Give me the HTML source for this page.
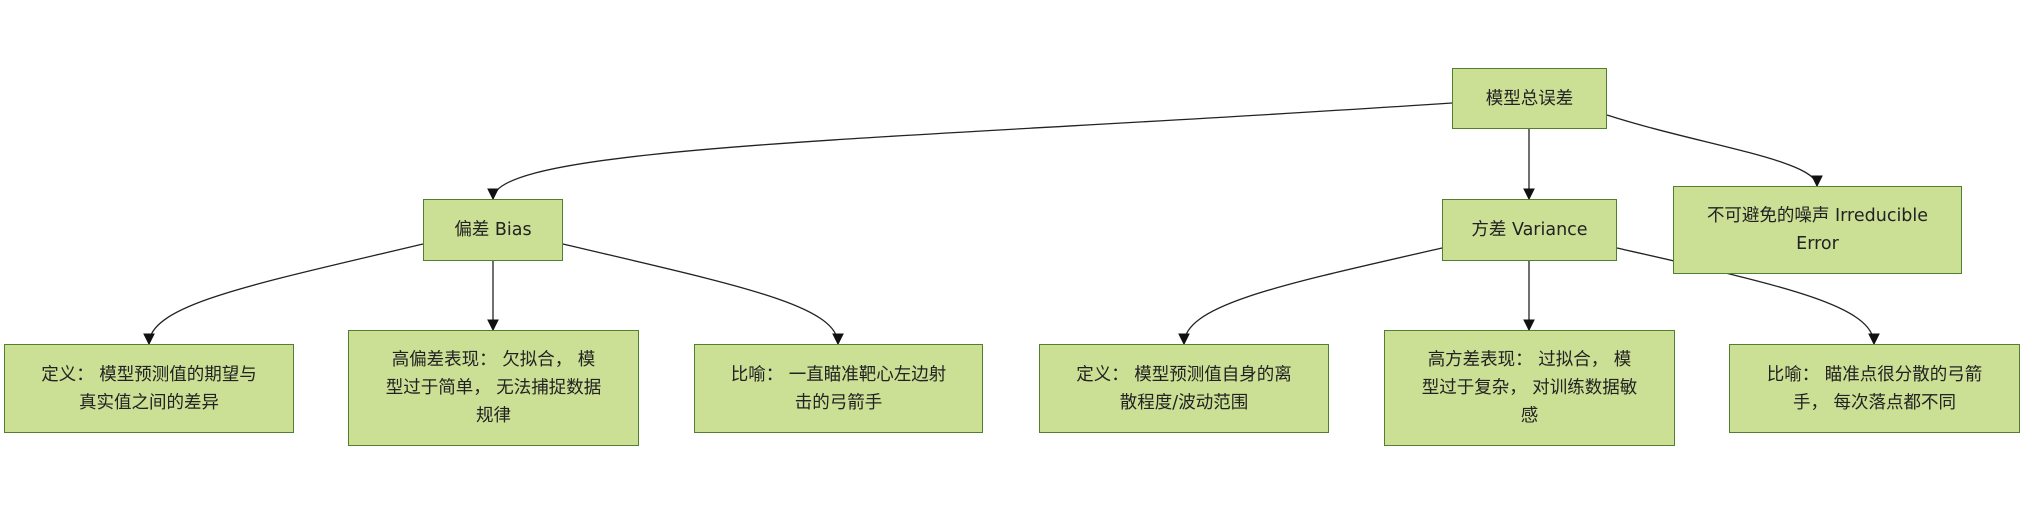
<!DOCTYPE html>
<html><head><meta charset="utf-8"><style>
html,body{margin:0;padding:0;background:#fff;}
body{width:2024px;height:508px;position:relative;overflow:hidden;font-family:"DejaVu Sans","Noto Sans CJK SC",sans-serif;}
.b{position:absolute;box-sizing:border-box;background:#cbdf95;border:1.5px solid #4f7f2f;display:flex;align-items:center;justify-content:center;text-align:center;font-size:17.5px;line-height:28px;color:#222;}
svg{position:absolute;left:0;top:0;}
</style></head><body>
<svg width="2024" height="508">
<defs><marker id="a" viewBox="0 0 10 10" refX="9" refY="5" markerWidth="9" markerHeight="9" orient="auto"><path d="M0,0L10,5L0,10z" fill="#111"/></marker></defs>
<g fill="none" stroke="#222" stroke-width="1.3" marker-end="url(#a)">
<path d="M1452,103 C900,140 493,145 493,199"/>
<path d="M1529,129 L1529,199"/>
<path d="M1607,115 C1700,145 1817,160 1817,186"/>
<path d="M423,244 C250,285 149,305 149,344"/>
<path d="M493,261 L493,330"/>
<path d="M563,244 C736,285 838,305 838,344"/>
<path d="M1442,248 C1280,285 1184,305 1184,344"/>
<path d="M1529,261 L1529,330"/>
<path d="M1617,248 C1780,285 1874,305 1874,344"/>
</g>
</svg>
<div class="b" style="left:1452px;top:68px;width:155px;height:61px;">模型总误差</div>
<div class="b" style="left:423px;top:199px;width:140px;height:62px;">偏差 Bias</div>
<div class="b" style="left:1442px;top:199px;width:175px;height:62px;">方差 Variance</div>
<div class="b" style="left:1673px;top:186px;width:289px;height:88px;">不可避免的噪声 Irreducible<br>Error</div>
<div class="b" style="left:4px;top:344px;width:290px;height:89px;">定义： 模型预测值的期望与<br>真实值之间的差异</div>
<div class="b" style="left:348px;top:330px;width:291px;height:116px;">高偏差表现： 欠拟合， 模<br>型过于简单， 无法捕捉数据<br>规律</div>
<div class="b" style="left:694px;top:344px;width:289px;height:89px;">比喻： 一直瞄准靶心左边射<br>击的弓箭手</div>
<div class="b" style="left:1039px;top:344px;width:290px;height:89px;">定义： 模型预测值自身的离<br>散程度/波动范围</div>
<div class="b" style="left:1384px;top:330px;width:291px;height:116px;">高方差表现： 过拟合， 模<br>型过于复杂， 对训练数据敏<br>感</div>
<div class="b" style="left:1729px;top:344px;width:291px;height:89px;">比喻： 瞄准点很分散的弓箭<br>手， 每次落点都不同</div>
</body></html>
